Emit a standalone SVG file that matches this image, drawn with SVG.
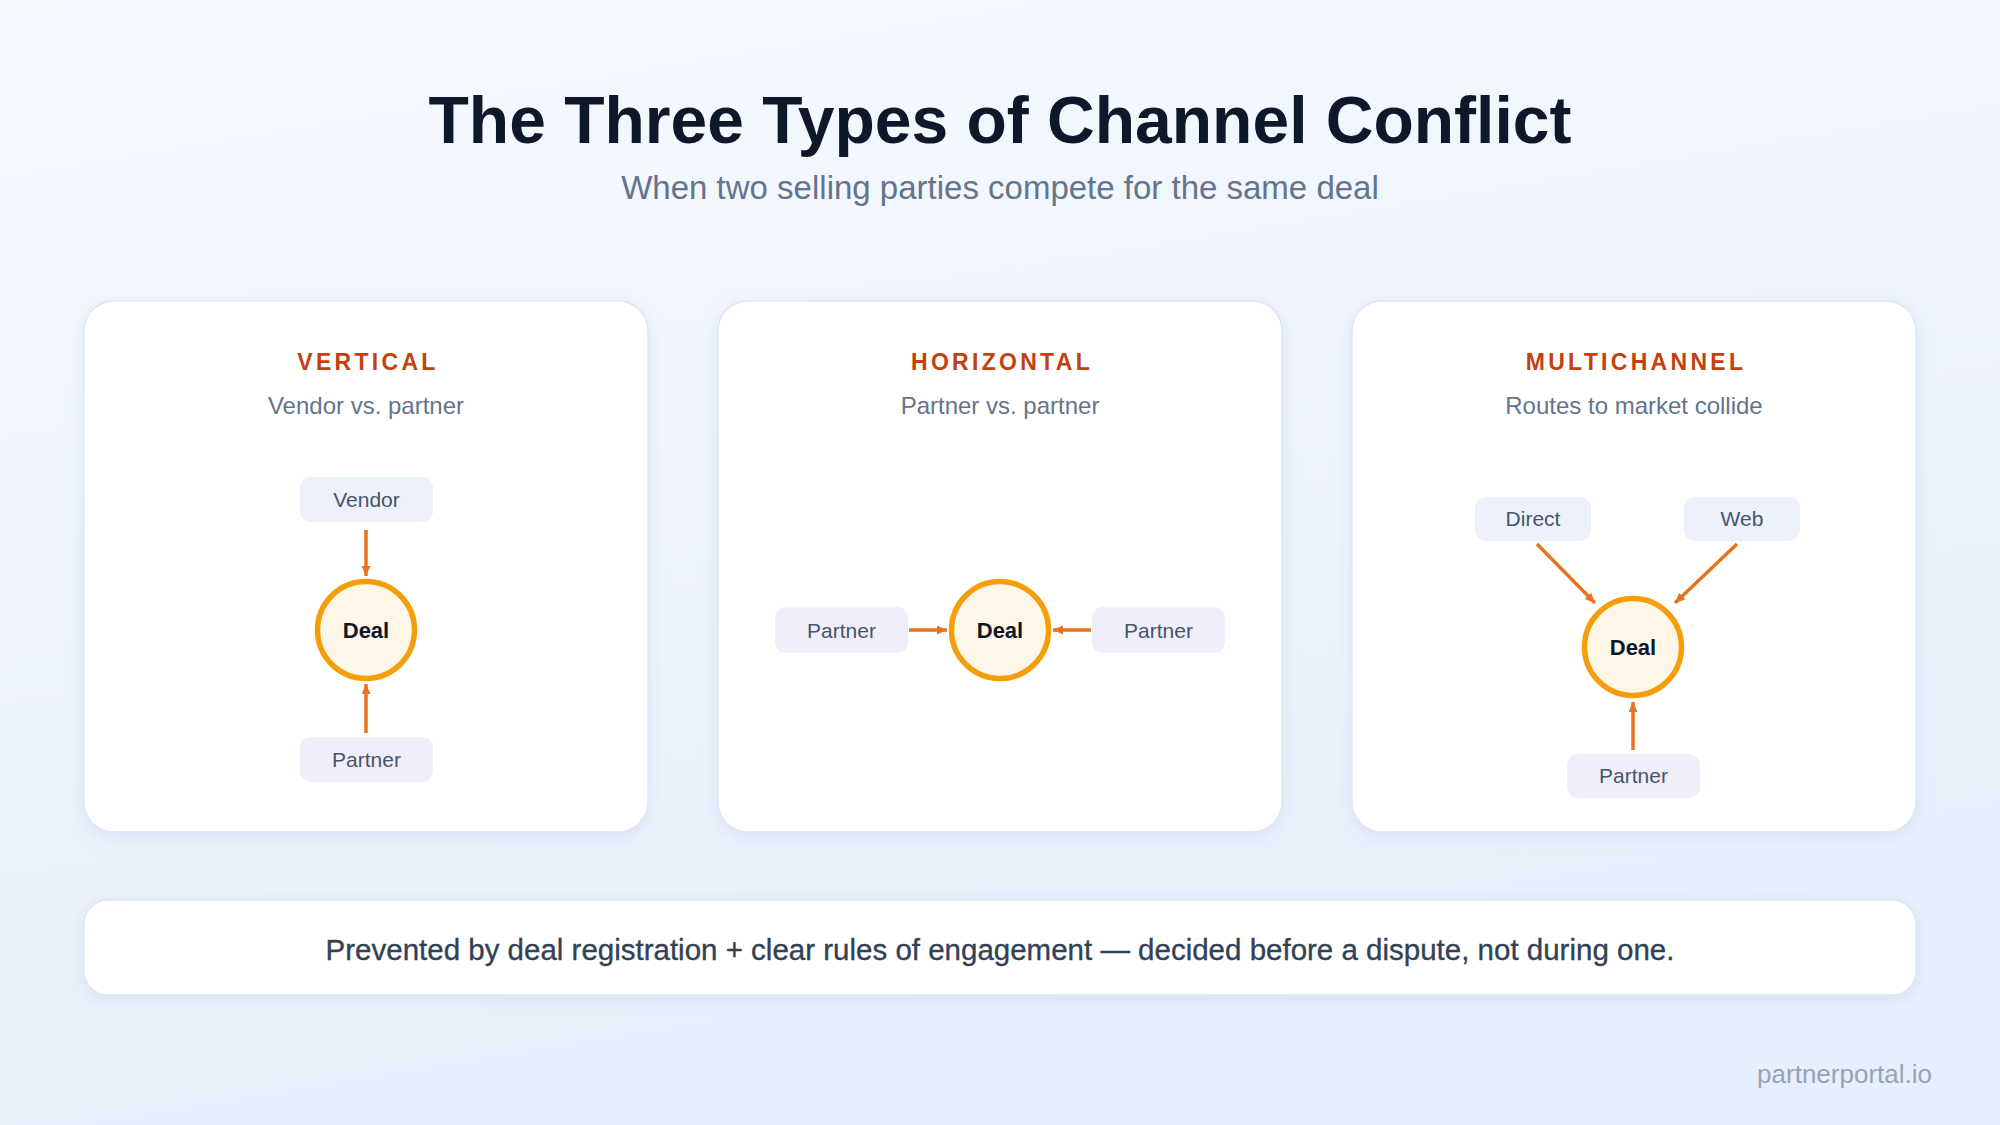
<svg xmlns="http://www.w3.org/2000/svg" width="2000" height="1125" viewBox="0 0 2000 1125">
  <defs>
    <linearGradient id="bg" x1="0" y1="0" x2="0.3" y2="1">
      <stop offset="0" stop-color="#f6f9fe"/>
      <stop offset="1" stop-color="#e8effc"/>
    </linearGradient>
    <filter id="shadow" x="-10%" y="-10%" width="120%" height="125%">
      <feDropShadow dx="0" dy="4" stdDeviation="8" flood-color="#a9b8dc" flood-opacity="0.28"/>
    </filter>
    <marker id="arrow" markerUnits="userSpaceOnUse" markerWidth="11" markerHeight="10" refX="10" refY="4.5" orient="auto">
      <path d="M0,0 L10,4.5 L0,9 z" fill="#e8731f"/>
    </marker>
    <style>
      .card { fill: #ffffff; stroke: #dfe6f3; stroke-width: 1.5; filter: url(#shadow); }
      .ctitle { font-family: "Liberation Sans", Arial, sans-serif; font-weight: 700; font-size: 23px; letter-spacing: 3.3px; fill: #c2410c; text-anchor: middle; }
      .csub { font-family: "Liberation Sans", Arial, sans-serif; font-size: 24px; fill: #64748b; text-anchor: middle; }
      .boxA { fill: #edf1fc; }
      .boxB { fill: #f1eefc; }
      .btext { font-family: "Liberation Sans", Arial, sans-serif; font-size: 21px; fill: #475569; text-anchor: middle; }
      .deal { fill: #fef7e8; stroke: #f59e0b; stroke-width: 5.5; }
      .dtext { font-family: "Liberation Sans", Arial, sans-serif; font-weight: 700; font-size: 22px; fill: #0f172a; text-anchor: middle; }
      .conn { stroke: #e8731f; stroke-width: 3.5; fill: none; marker-end: url(#arrow); }
    </style>
  </defs>

  <rect x="0" y="0" width="2000" height="1125" fill="url(#bg)"/>

  <g id="header">
    <text x="1000" y="143" font-family="Liberation Sans, Arial, sans-serif" font-weight="700" font-size="66" fill="#0f172a" text-anchor="middle">The Three Types of Channel Conflict</text>
    <text x="1000" y="199" font-family="Liberation Sans, Arial, sans-serif" font-size="33" fill="#64748b" text-anchor="middle">When two selling parties compete for the same deal</text>
  </g>

  <g id="card-vertical">
    <rect class="card" x="84" y="301" width="564" height="531" rx="30"/>
    <text class="ctitle" x="368" y="370">VERTICAL</text>
    <text class="csub" x="366" y="414">Vendor vs. partner</text>
  </g>
  <g id="card-horizontal">
    <rect class="card" x="718" y="301" width="564" height="531" rx="30"/>
    <text class="ctitle" x="1002" y="370">HORIZONTAL</text>
    <text class="csub" x="1000" y="414">Partner vs. partner</text>
  </g>
  <g id="card-multichannel">
    <rect class="card" x="1352" y="301" width="564" height="531" rx="30"/>
    <text class="ctitle" x="1636" y="370">MULTICHANNEL</text>
    <text class="csub" x="1634" y="414">Routes to market collide</text>
  </g>

  <g id="connectors">
    <line class="conn" x1="366" y1="530" x2="366" y2="576"/>
    <line class="conn" x1="366" y1="733" x2="366" y2="684"/>
    <line class="conn" x1="909" y1="630" x2="947" y2="630"/>
    <line class="conn" x1="1091" y1="630" x2="1053" y2="630"/>
    <line class="conn" x1="1537" y1="544" x2="1595" y2="603"/>
    <line class="conn" x1="1737" y1="544" x2="1675" y2="603"/>
    <line class="conn" x1="1633" y1="750" x2="1633" y2="702"/>
  </g>

  <g id="v-vendor">
    <rect class="boxA" x="300" y="477" width="133" height="45" rx="11"/>
    <text class="btext" x="366.5" y="507">Vendor</text>
  </g>
  <g id="v-deal">
    <circle class="deal" cx="366" cy="630" r="48.5"/>
    <text class="dtext" x="366" y="638">Deal</text>
  </g>
  <g id="v-partner">
    <rect class="boxB" x="300" y="737" width="133" height="45" rx="11"/>
    <text class="btext" x="366.5" y="767">Partner</text>
  </g>

  <g id="h-partner-left">
    <rect class="boxB" x="775" y="607" width="133" height="46" rx="11"/>
    <text class="btext" x="841.5" y="637.5">Partner</text>
  </g>
  <g id="h-deal">
    <circle class="deal" cx="1000" cy="630" r="48.5"/>
    <text class="dtext" x="1000" y="638">Deal</text>
  </g>
  <g id="h-partner-right">
    <rect class="boxB" x="1092" y="607" width="133" height="46" rx="11"/>
    <text class="btext" x="1158.5" y="637.5">Partner</text>
  </g>

  <g id="m-direct">
    <rect class="boxA" x="1475" y="497" width="116" height="44" rx="11"/>
    <text class="btext" x="1533" y="526">Direct</text>
  </g>
  <g id="m-web">
    <rect class="boxA" x="1684" y="497" width="116" height="44" rx="11"/>
    <text class="btext" x="1742" y="526">Web</text>
  </g>
  <g id="m-deal">
    <circle class="deal" cx="1633" cy="647" r="48.5"/>
    <text class="dtext" x="1633" y="655">Deal</text>
  </g>
  <g id="m-partner">
    <rect class="boxB" x="1567" y="754" width="133" height="44" rx="11"/>
    <text class="btext" x="1633.5" y="783">Partner</text>
  </g>

  <g id="banner">
    <rect class="card" x="84" y="900" width="1832" height="95" rx="24"/>
    <text x="1000" y="960" font-family="Liberation Sans, Arial, sans-serif" font-size="29.5" fill="#334155" stroke="#334155" stroke-width="0.35" text-anchor="middle">Prevented by deal registration + clear rules of engagement — decided before a dispute, not during one.</text>
  </g>

  <g id="footer">
    <text x="1932" y="1083" font-family="Liberation Sans, Arial, sans-serif" font-size="26" fill="#94a3b8" text-anchor="end">partnerportal.io</text>
  </g>
</svg>
